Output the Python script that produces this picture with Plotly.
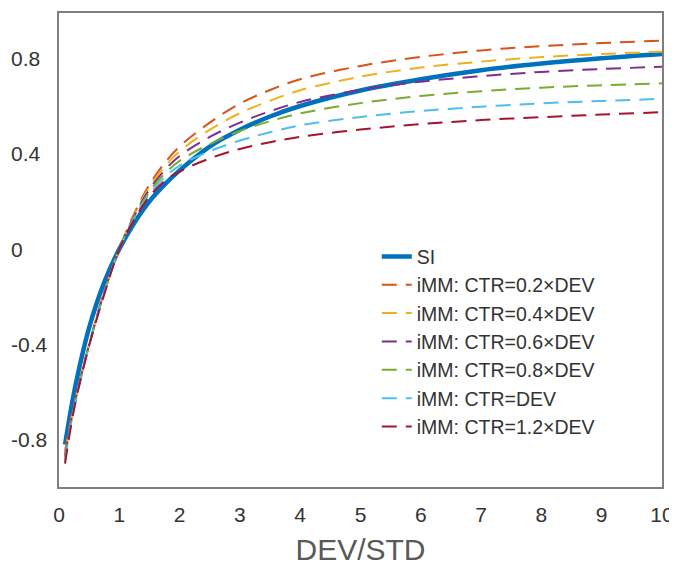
import plotly.graph_objects as go

x_vals = [0.1, 0.2, 0.3, 0.5, 0.75, 1.0, 1.25, 1.5, 1.75, 2.0, 2.5, 3.0, 3.5, 4.0, 5.0, 6.0, 7.0, 8.0, 9.0, 10.0]

si = [-0.82, -0.67, -0.54, -0.33, -0.14, 0.0, 0.11, 0.20, 0.27, 0.33, 0.43, 0.50, 0.556, 0.60, 0.665, 0.712, 0.75, 0.778, 0.80, 0.818]

imm_02 = [-0.85, -0.71, -0.60, -0.40, -0.18, 0.0, 0.15, 0.27, 0.36, 0.43, 0.53, 0.61, 0.667, 0.712, 0.768, 0.806, 0.833, 0.851, 0.864, 0.874]
imm_04 = [-0.86, -0.72, -0.60, -0.40, -0.18, 0.0, 0.145, 0.26, 0.345, 0.41, 0.50, 0.57, 0.622, 0.666, 0.723, 0.761, 0.786, 0.805, 0.818, 0.828]
imm_06 = [-0.87, -0.72, -0.60, -0.40, -0.18, 0.0, 0.14, 0.25, 0.33, 0.39, 0.47, 0.53, 0.578, 0.617, 0.668, 0.702, 0.725, 0.743, 0.755, 0.765]
imm_08 = [-0.88, -0.73, -0.61, -0.40, -0.185, 0.0, 0.135, 0.24, 0.315, 0.37, 0.44, 0.495, 0.536, 0.569, 0.612, 0.642, 0.662, 0.677, 0.687, 0.695]
imm_10 = [-0.89, -0.73, -0.61, -0.405, -0.185, 0.0, 0.13, 0.23, 0.30, 0.35, 0.41, 0.455, 0.49, 0.519, 0.554, 0.579, 0.597, 0.611, 0.621, 0.63]
imm_12 = [-0.90, -0.74, -0.61, -0.405, -0.19, 0.0, 0.125, 0.22, 0.285, 0.325, 0.38, 0.42, 0.448, 0.471, 0.501, 0.524, 0.541, 0.553, 0.564, 0.574]

series_names = ["iMM: CTR=0.2×DEV", "iMM: CTR=0.4×DEV", "iMM: CTR=0.6×DEV",
                "iMM: CTR=0.8×DEV", "iMM: CTR=DEV", "iMM: CTR=1.2×DEV"]
series_vals = [imm_02, imm_04, imm_06, imm_08, imm_10, imm_12]
series_colors = ["#D95319", "#EDB120", "#7E2F8E", "#77AC30", "#4DBEEE", "#A2142F"]

x_ticks = list(range(0, 11))
y_ticks = [0.8, 0.4, 0, -0.4, -0.8]
y_tick_text = ["0.8", "0.4", "0", "-0.4", "-0.8"]

fig = go.Figure()
fig.add_trace(go.Scatter(x=x_vals, y=si, name="SI", mode="lines", line_shape="spline",
                         line=dict(color="#0072BD", width=4.5)))
for name, vals, col in zip(series_names, series_vals, series_colors):
    fig.add_trace(go.Scatter(x=x_vals, y=vals, name=name, mode="lines", line_shape="spline",
                             line=dict(color=col, width=2, dash="15px,9px")))

font_family = "Liberation Sans, Arial, sans-serif"

for v, t in zip(y_ticks, y_tick_text):
    fig.add_annotation(x=0, xref="paper", y=v, yref="y", text=t, showarrow=False,
                       xanchor="left", xshift=-50, font=dict(family=font_family, size=21, color="#333333"))

fig.update_layout(
    width=669, height=560,
    margin=dict(l=51, r=15, t=3, b=81),
    paper_bgcolor="white", plot_bgcolor="white",
    font=dict(family=font_family, color="#333333"),
    showlegend=True,
    legend=dict(x=0.527, y=0.527, xanchor="left", yanchor="top", bgcolor="rgba(0,0,0,0)",
                font=dict(size=19.5, color="#333333"), itemwidth=30, tracegroupgap=0),
    xaxis=dict(range=[0, 10], tickvals=x_ticks, showgrid=False, zeroline=False,
               showline=True, mirror=True, linecolor="#7f7f7f", linewidth=1.5,
               ticks="", tickfont=dict(size=21, color="#333333"), ticklabelstandoff=8,
               title=dict(text="DEV/STD", font=dict(size=30, color="#595959"), standoff=14)),
    yaxis=dict(range=[-0.998, 0.99], tickvals=y_ticks, showticklabels=False, showgrid=False,
               zeroline=False, showline=True, mirror=True, linecolor="#7f7f7f", linewidth=1.5,
               ticks=""),
)

fig.write_html("out.html")
